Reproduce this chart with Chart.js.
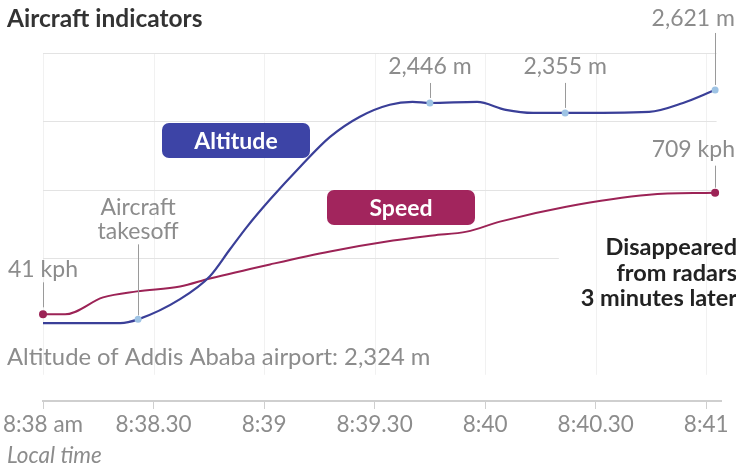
<!DOCTYPE html>
<html>
<head>
<meta charset="utf-8">
<script src="https://cdn.jsdelivr.net/npm/chart.js@4.4.1/dist/chart.umd.min.js"></script>
<style>
  html, body { margin: 0; padding: 0; background: #fff; }
  #wrap { width: 736px; height: 469px; position: relative; }
</style>
</head>
<body>
<div id="wrap"><canvas id="myChart" width="736" height="469"></canvas></div>
<script>
// seconds after 8:38 am
const altTimes = [0, 21, 25.8, 37.2, 45.3, 50.7, 55.4, 61.6, 69.8, 77.9, 86, 94.1, 100.3, 105, 117.8, 125.6, 133, 141.7, 164.5, 173.7, 182.4];
// altitude, relative scale (ground = ~21)
const altValues = [21.1, 21.1, 22.2, 28.1, 34.8, 42.6, 49.3, 57.2, 66.8, 75.5, 81.4, 84.9, 85.7, 85.4, 85.7, 83.4, 82.5, 82.5, 82.8, 85.4, 89.2];
const altMarks = [2, 13, 17, 20];

const speedTimes = [0, 6, 16.3, 25.5, 37.2, 45.3, 61.6, 77.9, 95, 105.8, 115, 124, 142, 164.5, 182.4];
const speedValues = [41, 41, 134, 167, 194, 238, 315, 386, 446, 474, 495, 550, 632, 698, 709];
const speedMarks = [0, 14];

const tickSeconds = [0, 30, 60, 90, 120, 150, 180];
const tickLabels = ["8:38 am", "8:38.30", "8:39", "8:39.30", "8:40", "8:40.30", "8:41"];
const gridValues = [100, 80, 60, 40];

const FONT = "Lato, 'Noto Sans', sans-serif";
const ALT_COLOR = "#3a3f98";
const SPEED_COLOR = "#9c2356";
const GREY = "#8c8c8c";

const toXY = (xs, ys) => xs.map((x, i) => ({ x: x, y: ys[i] }));

function roundBox(ctx, x, y, w, h, r, fill, text) {
  ctx.beginPath();
  ctx.roundRect(x, y, w, h, r);
  ctx.fillStyle = fill;
  ctx.fill();
  ctx.fillStyle = "#fff";
  ctx.font = "bold 23px " + FONT;
  ctx.textAlign = "center";
  ctx.textBaseline = "middle";
  ctx.fillText(text, x + w / 2, y + h / 2 + 1);
}

const decor = {
  id: "decor",
  beforeDatasetsDraw(chart) {
    const { ctx, chartArea, scales } = chart;
    const x = scales.x, y = scales.y;
    ctx.save();
    // vertical faint grid
    ctx.strokeStyle = "#f1f1f1";
    ctx.lineWidth = 1;
    tickSeconds.forEach((t) => {
      const px = Math.round(x.getPixelForValue(t)) + 0.5;
      ctx.beginPath();
      ctx.moveTo(px, chartArea.top);
      ctx.lineTo(px, y.getPixelForValue(6));
      ctx.stroke();
    });
    // horizontal grid
    ctx.strokeStyle = "#e3e3e3";
    gridValues.forEach((v, i) => {
      const py = Math.round(y.getPixelForValue(v)) + 0.5;
      const right = i === gridValues.length - 1 ? x.getPixelForValue(140) : x.getPixelForValue(182.8);
      ctx.beginPath();
      ctx.moveTo(chartArea.left, py);
      ctx.lineTo(right, py);
      ctx.stroke();
    });
    ctx.restore();
  },
  afterDatasetsDraw(chart) {
    const { ctx } = chart;
    const alt = chart.getDatasetMeta(0).data;
    const spd = chart.getDatasetMeta(1).data;
    ctx.save();
    ctx.strokeStyle = "#9a9a9a";
    ctx.lineWidth = 1;
    const lead = (px, y1, y2) => {
      px = Math.round(px) + 0.5;
      ctx.beginPath();
      ctx.moveTo(px, y1);
      ctx.lineTo(px, y2);
      ctx.stroke();
    };
    ctx.font = "23px " + FONT;
    ctx.fillStyle = GREY;
    ctx.textBaseline = "middle";

    // takeoff
    let p = alt[altMarks[0]];
    lead(p.x, p.y - 75, p.y - 4);
    ctx.textAlign = "center";
    ctx.fillText("Aircraft", p.x, p.y - 112);
    ctx.fillText("takesoff", p.x, p.y - 88);

    p = alt[altMarks[1]];
    lead(p.x, p.y - 20, p.y - 5);
    ctx.fillText("2,446 m", p.x, p.y - 36);

    p = alt[altMarks[2]];
    lead(p.x, p.y - 30, p.y - 5);
    ctx.fillText("2,355 m", p.x, p.y - 46);

    p = alt[altMarks[3]];
    lead(p.x, p.y - 57, p.y - 5);
    ctx.textAlign = "right";
    ctx.fillText("2,621 m", 735, p.y - 71);

    p = spd[speedMarks[1]];
    lead(p.x, p.y - 27, p.y - 5);
    ctx.fillText("709 kph", 735, p.y - 43);

    p = spd[speedMarks[0]];
    lead(p.x, p.y - 32, p.y - 7);
    ctx.textAlign = "left";
    ctx.fillText("41 kph", 8, p.y - 45);

    // series labels
    roundBox(ctx, 162, 123, 148, 35, 7, "#3d44a6", "Altitude");
    roundBox(ctx, 327, 190, 148, 35, 7, "#a2255d", "Speed");

    // other texts
    ctx.textBaseline = "middle";
    ctx.textAlign = "left";
    ctx.fillStyle = "#333";
    ctx.font = "bold 24.5px " + FONT;
    ctx.fillText("Aircraft indicators", 7, 19);

    ctx.fillStyle = GREY;
    ctx.font = "23.8px " + FONT;
    ctx.fillText("Altitude of Addis Ababa airport: 2,324 m", 7, 357);
    ctx.font = "italic 22.5px " + FONT;
    ctx.fillText("Local time", 7, 456);

    ctx.fillStyle = "#222";
    ctx.font = "bold 23.5px " + FONT;
    ctx.textAlign = "right";
    ctx.fillText("Disappeared", 737, 247);
    ctx.fillText("from radars", 737, 273);
    ctx.fillText("3 minutes later", 737, 298);
    ctx.restore();
  }
};

const ctx = document.getElementById("myChart").getContext("2d");
const myChart = new Chart(ctx, {
  type: "line",
  data: {
    datasets: [
      {
        label: "Altitude",
        data: toXY(altTimes, altValues),
        yAxisID: "y",
        borderColor: ALT_COLOR,
        borderWidth: 2.2,
        cubicInterpolationMode: "monotone",
        pointRadius: (c) => (altMarks.includes(c.dataIndex) ? 3.5 : 0),
        pointBackgroundColor: "#9ec3e4",
        pointBorderWidth: 0,
        clip: false,
      },
      {
        label: "Speed",
        data: toXY(speedTimes, speedValues),
        yAxisID: "ySpeed",
        borderColor: SPEED_COLOR,
        borderWidth: 2,
        cubicInterpolationMode: "monotone",
        pointRadius: (c) => (speedMarks.includes(c.dataIndex) ? 4 : 0),
        pointBackgroundColor: SPEED_COLOR,
        pointBorderWidth: 0,
        clip: false,
      },
    ],
  },
  options: {
    responsive: false,
    animation: false,
    layout: { padding: { left: 43, right: 15, top: 53, bottom: 29 } },
    plugins: { legend: { display: false }, tooltip: { enabled: false } },
    scales: {
      x: {
        type: "linear",
        min: 0,
        max: 184,
        afterBuildTicks: (scale) => {
          scale.ticks = tickSeconds.map((v) => ({ value: v }));
        },
        ticks: {
          callback: (v) => tickLabels[tickSeconds.indexOf(v)],
          color: GREY,
          font: { family: FONT, size: 22.5 },
          padding: 2,
          maxRotation: 0,
          autoSkip: false,
        },
        grid: { drawOnChartArea: false, tickLength: 8, color: "#cfcfcf" },
        border: { color: "#cfcfcf", width: 2 },
      },
      y: { display: false, min: -1.65, max: 100 },
      ySpeed: { display: false, min: -435, max: 1476 },
    },
  },
  plugins: [decor],
});
</script>
</body>
</html>
